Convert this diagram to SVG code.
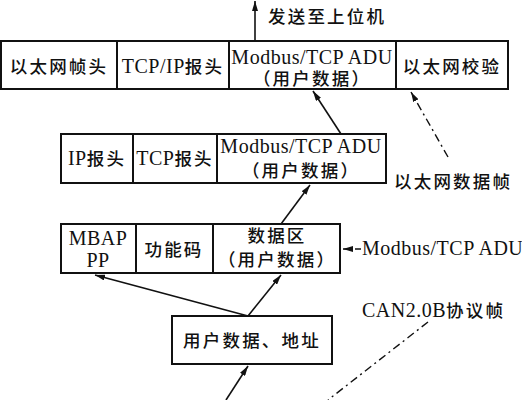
<svg xmlns="http://www.w3.org/2000/svg" width="522" height="400" viewBox="0 0 522 400">
<style>
.box{fill:#fff;stroke:#111;stroke-width:2}
.div{stroke:#111;stroke-width:2}
text{font-family:"Liberation Serif","Noto Sans CJK SC",serif;font-size:20px;letter-spacing:0.5px;fill:#111}
.c{font-family:"Noto Sans CJK SC",sans-serif;font-size:17.5px;font-weight:500;letter-spacing:2.2px}
.ln{stroke:#111;stroke-width:1.6;fill:none}
.dd{stroke:#111;stroke-width:1.4;fill:none;stroke-dasharray:8 4 2 4}
</style>
<defs>
<marker id="ah" viewBox="0 0 10 6" refX="10" refY="3" markerWidth="10" markerHeight="6" markerUnits="userSpaceOnUse" orient="auto">
<path d="M0,0 L10,3 L0,6 Z" fill="#111"/>
</marker>
</defs>
<g id="frame-ethernet">
<rect class="box" x="1" y="41" width="507" height="48"/>
<line class="div" x1="117" y1="41" x2="117" y2="89"/>
<line class="div" x1="229" y1="41" x2="229" y2="89"/>
<line class="div" x1="396" y1="41" x2="396" y2="89"/>
<text x="59" y="73" text-anchor="middle" class="c">以太网帧头</text>
<text x="173" y="73" text-anchor="middle">TCP/IP<tspan class="c">报头</tspan></text>
<text x="312" y="64" text-anchor="middle">Modbus/TCP ADU</text>
<text x="312" y="85" text-anchor="middle" class="c">（用户数据）</text>
<text x="452" y="73" text-anchor="middle" class="c">以太网校验</text>
</g>
<g id="frame-ip">
<rect class="box" x="61" y="134" width="325" height="49"/>
<line class="div" x1="133" y1="134" x2="133" y2="183"/>
<line class="div" x1="217" y1="134" x2="217" y2="183"/>
<text x="97" y="165" text-anchor="middle">IP<tspan class="c">报头</tspan></text>
<text x="175" y="165" text-anchor="middle">TCP<tspan class="c">报头</tspan></text>
<text x="301" y="153" text-anchor="middle">Modbus/TCP ADU</text>
<text x="301" y="177" text-anchor="middle" class="c">（用户数据）</text>
</g>
<g id="frame-modbus">
<rect class="box" x="61" y="224" width="279" height="49"/>
<line class="div" x1="136" y1="224" x2="136" y2="273"/>
<line class="div" x1="213" y1="224" x2="213" y2="273"/>
<text x="98" y="245" text-anchor="middle">MBAP</text>
<text x="98" y="267" text-anchor="middle">PP</text>
<text x="174" y="256" text-anchor="middle" class="c">功能码</text>
<text x="277" y="242" text-anchor="middle" class="c">数据区</text>
<text x="277" y="266" text-anchor="middle" class="c">（用户数据）</text>
</g>
<g id="node-user">
<rect class="box" x="172" y="316" width="160" height="48"/>
<text x="252" y="347" text-anchor="middle" class="c">用户数据、地址</text>
</g>
<g id="labels">
<text x="268" y="23" class="c">发送至上位机</text>
<text x="394" y="188" class="c">以太网数据帧</text>
<text x="362" y="255">Modbus/TCP ADU</text>
<text x="362" y="317">CAN2.0B<tspan class="c">协议帧</tspan></text>
</g>
<g id="connectors">
<line class="ln" x1="255" y1="41" x2="255" y2="1" marker-end="url(#ah)"/>
<line class="ln" x1="341" y1="134" x2="313" y2="91" marker-end="url(#ah)"/>
<line class="dd" x1="448" y1="157" x2="411" y2="92" marker-end="url(#ah)"/>
<line class="ln" x1="281" y1="224" x2="310" y2="185" marker-end="url(#ah)"/>
<line class="ln" x1="361" y1="249" x2="343" y2="249" stroke-dasharray="6 3 9 0" marker-end="url(#ah)"/>
<line class="ln" x1="248" y1="316" x2="95" y2="275" marker-end="url(#ah)"/>
<line class="ln" x1="248" y1="316" x2="281" y2="275" marker-end="url(#ah)"/>
<line class="ln" x1="226" y1="400" x2="248" y2="366" marker-end="url(#ah)"/>
<line class="dd" x1="428" y1="322" x2="328" y2="400"/>
</g>
</svg>
